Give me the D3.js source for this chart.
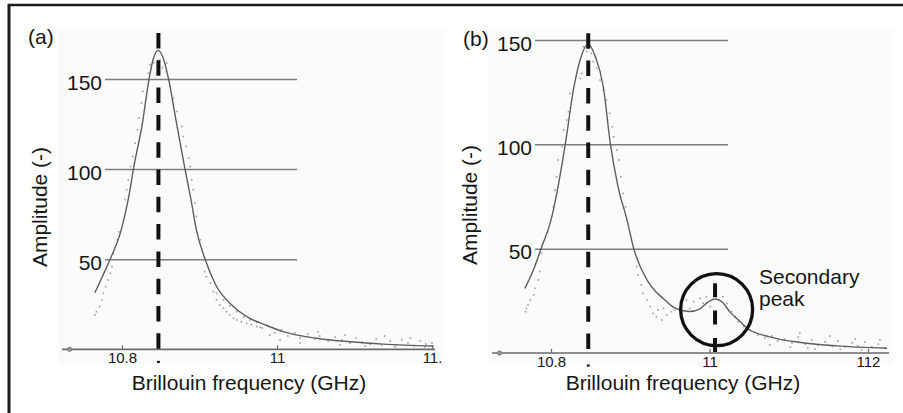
<!DOCTYPE html>
<html>
<head>
<meta charset="utf-8">
<script src="https://cdn.jsdelivr.net/npm/d3@7"></script>
<style>
body { margin:0; background:#fff; }
svg text { font-family:"Liberation Sans", Arial, Helvetica, sans-serif; fill:#161616; }
</style>
</head>
<body>
<div id="chart"></div>
<script>
// values
var yTicks = [50, 100, 150];
var xTicks = [10.8, 11, 11.2];
var xLabelsA = ["10.8", "11", "11."];
var xLabelsB = ["10.8", "11", "112"];

var peakA = 10.847;
var peakB = 10.847;
var secondB = 11.007;
var circleB = [11.009, 20.8];

// fitted curve (GHz, amplitude)
var fitA = [
	[10.765,31.4],[10.775,40.7],[10.785,50.2],[10.799,66.3],[10.808,83],[10.815,100.7],
	[10.826,124.6],[10.835,150.2],[10.840,160.7],[10.847,165.9],[10.853,161.8],[10.860,150.2],
	[10.870,126.3],[10.881,100.7],[10.889,83],[10.896,66.3],[10.907,50.2],[10.921,35.7],
	[10.943,24],[10.965,17.2],[10.985,13.5],[11.008,9.8],[11.051,6.1],[11.094,4.2],
	[11.137,2.9],[11.202,1.8]
];
var fitB = [
	[10.767,31.0],[10.778,40],[10.788,50.6],[10.800,63.7],[10.809,80],[10.818,100],
	[10.829,127.6],[10.838,142],[10.847,148],[10.856,142],[10.866,127.6],[10.875,100],
	[10.885,79],[10.896,63.7],[10.904,50.6],[10.921,35],[10.932,29.5],[10.942,26],[10.952,22.6],
	[10.963,20.6],[10.975,19.9],[10.988,21.2],[10.998,24.4],[11.007,25.9],[11.016,24.4],[11.026,19.6],
	[11.038,15.3],[11.047,12],[11.076,7.7],[11.118,4.9],[11.161,3.4],[11.224,2.3]
];

// measured points (GHz, amplitude)
var dotsA = [
	[10.836,158.0],[10.834,153.3],[10.827,143.1],[10.825,136.7],[10.822,128.3],[10.820,121.8],
	[10.817,114.4],[10.814,107.0],[10.811,101.4],[10.808,94.1],[10.806,88.5],[10.804,83.0],
	[10.849,160.7],[10.841,159],[10.852,156.3],
	[10.858,158.9],[10.857,154.2],[10.862,145.9],[10.866,139.4],[10.871,132.0],[10.877,123.7],
	[10.879,118.1],[10.883,112.6],[10.886,106.1],[10.888,101.4],[10.890,94.1],[10.892,88.5],
	[10.894,81.1],[10.896,73.7],
	[10.789,53.3],[10.787,45.9],[10.785,42.2],[10.782,38.5],[10.779,34.8],[10.776,31.1],
	[10.774,27.4],[10.771,23.7],[10.767,20.9],[10.765,19.1],[10.794,60.7],[10.796,65.2],
	[10.901,60.7],[10.905,49.6],[10.907,43.1],[10.909,40.3],[10.914,36.7],[10.918,32.0],
	[10.922,27.4],[10.926,24.6],[10.931,22.8],[10.935,20.9],[10.939,19.1],[10.944,17.2],
	[10.948,16.3],[10.954,15.3],[10.961,14.4],[10.967,13.5],[10.974,12.6],[10.978,12.2],
	[10.922,31.1],[10.931,27.4],[10.939,24.1],[10.948,20.9],[10.957,18.1],[10.965,16.3],[10.974,15.3],
	[10.981,11.8],[10.988,12.9],[10.997,9.1],[11.006,10.7],[11.014,7.4],[11.023,9.1],[11.030,6.3],
	[11.040,8.5],[11.049,5.7],[11.055,7.4],[11.066,4.6],[11.075,6.8],[11.084,5.2],[11.094,3.5],
	[11.102,6.3],[11.110,4.1],[11.120,2.9],[11.128,5.7],[11.135,2.4],[11.146,4.6],[11.154,2.4],
	[11.161,5.2],[11.169,3.5],[11.177,1.8],[11.185,4.6],[11.192,2.9],[11.200,3.5],[11.053,9.6],
	[11.088,7.9],[11.139,7.4],[11.172,6.3],[11.030,3.5],[11.081,2.4],[11.114,1.8],[11.152,1.3],
	[11.191,1.3],[11.004,5.2],[10.991,7.9]
];
var dotsB = [
	[10.841,146.8],[10.845,144.4],[10.851,143.6],[10.839,134.0],[10.837,131.6],[10.824,124.4],
	[10.822,115.6],[10.820,111.6],[10.816,106.9],[10.814,98.9],[10.809,92.5],[10.807,84.5],
	[10.805,78.1],[10.803,70.1],
	[10.853,139.6],[10.858,136.4],[10.862,130.8],[10.866,126.0],[10.870,121.2],[10.874,114.9],
	[10.877,108.4],[10.879,103.6],[10.883,97.3],[10.886,92.5],[10.888,84.5],[10.891,76.5],[10.894,70.1],
	[10.788,47.8],[10.786,39.0],[10.784,35.0],[10.780,31.0],[10.778,27.8],[10.774,25.4],
	[10.771,23.0],[10.769,21.4],[10.768,19.8],[10.796,58],
	[10.908,41.4],[10.910,37.4],[10.914,32.6],[10.916,28.6],[10.921,25.4],[10.925,22.2],
	[10.929,19.0],[10.933,17.4],[10.940,15.8],[10.946,18.2],[10.952,19.8],[10.956,20.6],
	[10.942,21.4],[10.935,20.6],
	[10.971,25.4],[10.980,24.6],[10.988,26.2],[10.992,23.8],[10.975,21.4],[11.017,27.0],
	[11.022,23.8],[11.028,19.8],[11.032,17.4],[11.036,15.0],[11.043,12.6],[11.051,11.0],
	[11.001,22.2],[10.996,27.0],
	[11.061,8.6],[11.070,7.2],[11.079,8.1],[11.086,5.7],[11.095,6.7],[11.104,4.8],[11.112,7.7],
	[11.121,4.3],[11.129,6.2],[11.137,3.8],[11.146,5.3],[11.155,3.4],[11.162,5.7],[11.171,2.9],
	[11.180,4.8],[11.187,3.4],[11.196,5.3],[11.205,2.9],[11.213,4.3],[11.221,2.4],[11.102,2.9],
	[11.133,1.9],[11.165,1.9],[11.192,1.4],[11.114,9.6],[11.152,8.1],[11.184,6.7],[11.215,6.2],
	[11.076,3.8],[11.124,2.4]
];

var svg = d3.select("#chart").append("svg").attr("width", 903).attr("height", 413);

// frame (top and left edges only)
svg.append("line").attr("x1", 8).attr("x2", 903).attr("y1", 5).attr("y2", 5)
	.attr("stroke", "#1a1a1a").attr("stroke-width", 2.5);
svg.append("line").attr("x1", 9).attr("x2", 9).attr("y1", 4).attr("y2", 413)
	.attr("stroke", "#1a1a1a").attr("stroke-width", 3);

var panels = [
	{tag:"(a)", tagX:28, tagY:44, fit:fitA, dots:dotsA, peak:peakA, labels:xLabelsA,
	 xr:[122, 432], yr:[349.3, 79], grid:[105, 297], axis:[62, 435], bg:[58, 28, 445, 365],
	 dashTop:33, titleX:249, yTitleX:47, yTitleY:207},
	{tag:"(b)", tagX:463, tagY:46, fit:fitB, dots:dotsB, peak:peakB, labels:xLabelsB,
	 xr:[551, 868], yr:[353, 40], grid:[535, 728], axis:[492, 889], bg:[488, 28, 893, 365],
	 dashTop:33.3, titleX:683, yTitleX:477, yTitleY:205}
];

panels.forEach(function(p, k)
{
	var g = svg.append("g");
	var x = d3.scaleLinear().domain([10.8, 11.2]).range(p.xr);
	var y = d3.scaleLinear().domain([0, 150]).range(p.yr);
	var y0 = y(0);

	g.append("rect").attr("x", p.bg[0]).attr("y", p.bg[1])
		.attr("width", p.bg[2]-p.bg[0]).attr("height", p.bg[3]-p.bg[1]).attr("fill", "#fbfbfb");

	// horizontal grid + labels
	var ya = d3.axisLeft(y).tickValues(yTicks).tickSize(-(p.grid[1]-p.grid[0])).tickPadding(3);
	var gy = g.append("g").attr("transform", "translate("+p.grid[0]+",0)").call(ya);
	gy.select(".domain").remove();
	gy.selectAll("line").attr("stroke", "#7e7e7e").attr("stroke-width", 1.5);
	gy.selectAll("text").attr("font-size", 21).attr("dy", "0.48em")
		.attr("font-family", "Liberation Sans, Arial, sans-serif").attr("fill", "#161616");

	// baseline
	g.append("line").attr("x1", p.axis[0]).attr("x2", p.axis[1]).attr("y1", y0).attr("y2", y0)
		.attr("stroke", "#6a6a6a").attr("stroke-width", 1.7);
	g.append("circle").attr("cx", p.axis[0]+7.5).attr("cy", y0).attr("r", 2.2)
		.attr("fill", "#999").attr("stroke", "#777").attr("stroke-width", 0.8);

	var xa = d3.axisBottom(x).tickValues(xTicks).tickSize(-4).tickPadding(3)
		.tickFormat(function(d, i) { return p.labels[i]; });
	var gx = g.append("g").attr("transform", "translate(0,"+y0+")").call(xa);
	gx.select(".domain").remove();
	gx.selectAll("line").attr("stroke", "#6a6a6a").attr("stroke-width", 1.2);
	gx.selectAll("text").attr("font-size", 15)
		.attr("font-family", "Liberation Sans, Arial, sans-serif").attr("fill", "#161616");

	// measured points
	g.selectAll("rect.dot").data(p.dots).enter().append("rect").attr("class", "dot")
		.attr("x", function(d) { return x(d[0]) - 0.8; })
		.attr("y", function(d) { return y(d[1]) - 0.8; })
		.attr("width", 1.6).attr("height", 1.6).attr("fill", "#9d9d9d");

	// fit
	var line = d3.line().x(function(d) { return x(d[0]); }).y(function(d) { return y(d[1]); })
		.curve(d3.curveMonotoneX);
	g.append("path").attr("d", line(p.fit)).attr("fill", "none")
		.attr("stroke", "#5e5e5e").attr("stroke-width", 1.4);

	// peak marker
	g.append("line").attr("x1", x(p.peak)).attr("x2", x(p.peak)).attr("y1", p.dashTop).attr("y2", y0)
		.attr("stroke", "#111").attr("stroke-width", 4).attr("stroke-dasharray", "15.5,11.8");
	g.append("rect").attr("x", x(p.peak)-1.5).attr("y", y0+11.5).attr("width", 3).attr("height", 2.2)
		.attr("fill", "#222");

	// texts
	g.append("text").attr("x", p.tagX).attr("y", p.tagY).attr("font-size", 21).text(p.tag);
	g.append("text").attr("x", p.titleX).attr("y", 390).attr("font-size", 21)
		.attr("text-anchor", "middle").text("Brillouin frequency (GHz)");
	g.append("text").attr("transform", "translate("+p.yTitleX+","+p.yTitleY+") rotate(-90)")
		.attr("font-size", 21).attr("text-anchor", "middle").text("Amplitude (-)");

	if(k == 1)
	{
		var sx = x(secondB);
		g.append("line").attr("x1", sx).attr("x2", sx).attr("y1", 283.3).attr("y2", y0 - 1)
			.attr("stroke", "#111").attr("stroke-width", 4).attr("stroke-dasharray", "14,13.3");
		g.append("circle").attr("cx", x(circleB[0])).attr("cy", y(circleB[1])).attr("r", 36)
			.attr("fill", "none").attr("stroke", "#111").attr("stroke-width", 3.3);
		g.append("text").attr("x", 759).attr("y", 284.3).attr("font-size", 21).text("Secondary");
		g.append("text").attr("x", 759).attr("y", 305.5).attr("font-size", 21).text("peak");
	}
});
</script>
</body>
</html>
